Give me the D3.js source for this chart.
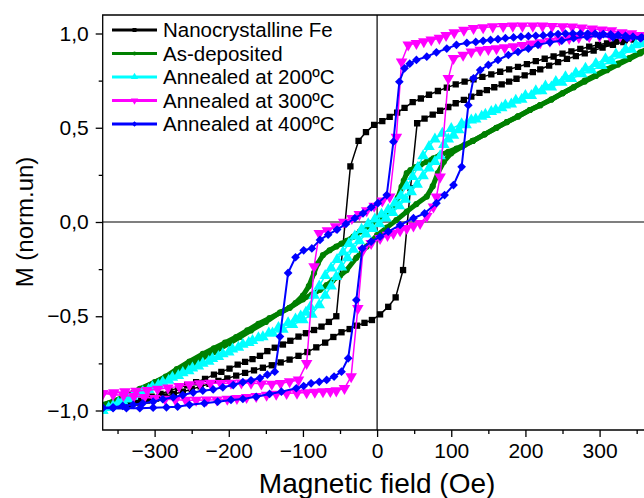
<!DOCTYPE html>
<html><head><meta charset="utf-8">
<script src="https://cdn.jsdelivr.net/npm/d3@7"></script>
<style>body{margin:0;background:#fff}svg{display:block}text{font-family:"Liberation Sans",Arial,sans-serif;fill:#000}</style>
</head><body><svg id="c" width="644" height="498"></svg>
<script>
// ---- data (H in Oe, M normalised) ----
const xTicks = [-300,-200,-100,0,100,200,300];
const xMinor = [-350,-250,-150,-50,50,150,250,350];
const yTicks = [-1,-0.5,0,0.5,1];
const yMinor = [-0.75,-0.25,0.25,0.75];
const seriesNames = ["Nanocrystalline Fe","As-deposited","Annealed at 200ºC","Annealed at 300ºC","Annealed at 400ºC"];

const black_desc = [[370,0.99],[358,0.982],[346,0.973],[334,0.965],[322,0.957],[310,0.948],[298,0.94],[286,0.93],[274,0.918],[262,0.905],[250,0.893],[238,0.878],[226,0.866],[214,0.853],[202,0.838],[190,0.823],[178,0.81],[166,0.797],[154,0.783],[142,0.77],[130,0.757],[118,0.745],[106,0.73],[94,0.713],[82,0.695],[70,0.675],[59,0.655],[48,0.636],[37,0.605],[27,0.58],[17,0.558],[7,0.535],[-4,0.515],[-15,0.477],[-25,0.43],[-36,0.295],[-55,-0.50],[-65,-0.53],[-75,-0.555],[-85,-0.573],[-96,-0.59],[-106,-0.608],[-117,-0.63],[-127,-0.65],[-138,-0.667],[-148,-0.685],[-158,-0.71],[-168,-0.727],[-178,-0.742],[-188,-0.757],[-199,-0.778],[-210,-0.795],[-220,-0.81],[-232,-0.832],[-244,-0.85],[-256,-0.866],[-268,-0.88],[-280,-0.895],[-292,-0.912],[-304,-0.927],[-318,-0.943],[-332,-0.958],[-346,-0.972],[-358,-0.985],[-370,-0.99]];
const black_asc = [[-370,-0.99],[-358,-0.985],[-346,-0.977],[-334,-0.968],[-322,-0.958],[-310,-0.948],[-298,-0.937],[-286,-0.925],[-274,-0.912],[-262,-0.9],[-250,-0.887],[-238,-0.872],[-226,-0.858],[-214,-0.843],[-202,-0.83],[-190,-0.815],[-178,-0.8],[-166,-0.787],[-154,-0.773],[-142,-0.76],[-130,-0.745],[-118,-0.73],[-106,-0.71],[-94,-0.69],[-82,-0.665],[-70,-0.64],[-59,-0.61],[-48,-0.585],[-37,-0.568],[-27,-0.55],[-17,-0.535],[-7,-0.52],[4,-0.49],[15,-0.45],[25,-0.40],[35,-0.255],[45,0.18],[54,0.524],[64,0.548],[75,0.57],[85,0.59],[96,0.61],[106,0.63],[117,0.648],[127,0.665],[138,0.685],[148,0.70],[158,0.715],[168,0.73],[178,0.745],[188,0.76],[199,0.778],[210,0.795],[220,0.81],[232,0.83],[244,0.848],[256,0.865],[268,0.88],[280,0.895],[292,0.91],[304,0.925],[318,0.94],[332,0.955],[346,0.968],[358,0.98],[370,0.99]];

const green_desc = [[370,0.93],[355,0.9],[340,0.87],[325,0.84],[310,0.81],[295,0.78],[280,0.75],[265,0.715],[250,0.683],[235,0.65],[220,0.62],[206,0.594],[190,0.56],[175,0.53],[161,0.50],[145,0.465],[129,0.43],[118,0.41],[107,0.39],[96,0.372],[85,0.355],[76,0.338],[67,0.32],[59,0.305],[51,0.29],[45,0.275],[40,0.26],[36,0.22],[33,0.187],[28,0.13],[22,0.08],[15,0.05],[7,0.03],[0,0.015],[-7,-0.005],[-14,-0.025],[-23,-0.05],[-32,-0.078],[-41,-0.10],[-48,-0.115],[-55,-0.13],[-64,-0.15],[-73,-0.175],[-80,-0.22],[-85,-0.27],[-92,-0.34],[-100,-0.39],[-110,-0.43],[-118,-0.455],[-130,-0.48],[-145,-0.51],[-160,-0.54],[-175,-0.575],[-190,-0.61],[-205,-0.64],[-220,-0.67],[-235,-0.70],[-253,-0.74],[-270,-0.78],[-285,-0.82],[-300,-0.85],[-320,-0.89],[-340,-0.93],[-355,-0.95],[-370,-0.97]];
const green_asc = [[-370,-0.97],[-355,-0.95],[-340,-0.925],[-320,-0.885],[-300,-0.85],[-285,-0.825],[-266,-0.79],[-250,-0.755],[-235,-0.72],[-220,-0.69],[-200,-0.645],[-185,-0.61],[-170,-0.575],[-150,-0.53],[-131,-0.48],[-118,-0.455],[-100,-0.41],[-88,-0.385],[-77,-0.36],[-68,-0.335],[-60,-0.31],[-50,-0.285],[-41,-0.255],[-28,-0.19],[-14,-0.13],[0,-0.07],[13,-0.03],[26,0.01],[40,0.055],[53,0.095],[67,0.135],[75,0.19],[82,0.26],[90,0.32],[100,0.365],[115,0.40],[129,0.43],[145,0.465],[161,0.50],[175,0.53],[190,0.56],[206,0.594],[220,0.62],[235,0.65],[250,0.683],[265,0.715],[280,0.745],[295,0.775],[310,0.805],[325,0.835],[340,0.865],[355,0.895],[370,0.925]];

const cyan_desc = [[370,0.975],[356,0.945],[343,0.915],[330,0.885],[316,0.855],[303,0.83],[289,0.805],[276,0.785],[262,0.76],[249,0.74],[235,0.715],[222,0.695],[208,0.67],[195,0.65],[181,0.625],[168,0.605],[154,0.585],[141,0.56],[127,0.54],[114,0.52],[100,0.495],[88,0.47],[78,0.44],[70,0.40],[62,0.35],[55,0.29],[48,0.24],[40,0.19],[32,0.14],[24,0.10],[15,0.065],[6,0.04],[-3,0.015],[-12,-0.01],[-21,-0.04],[-30,-0.075],[-38,-0.115],[-46,-0.16],[-54,-0.2],[-62,-0.245],[-70,-0.285],[-78,-0.34],[-85,-0.39],[-90,-0.45],[-96,-0.48],[-103,-0.5],[-110,-0.515],[-120,-0.535],[-133,-0.56],[-146,-0.59],[-160,-0.615],[-173,-0.64],[-187,-0.665],[-200,-0.69],[-214,-0.715],[-227,-0.74],[-241,-0.765],[-254,-0.79],[-268,-0.815],[-281,-0.84],[-295,-0.865],[-308,-0.89],[-322,-0.915],[-335,-0.94],[-349,-0.96],[-362,-0.985],[-370,-1.0]];
const cyan_asc = [[-370,-1.0],[-356,-0.975],[-343,-0.95],[-330,-0.925],[-316,-0.9],[-303,-0.875],[-289,-0.85],[-276,-0.825],[-262,-0.8],[-249,-0.775],[-235,-0.75],[-222,-0.725],[-208,-0.7],[-195,-0.675],[-181,-0.65],[-168,-0.63],[-154,-0.61],[-141,-0.59],[-127,-0.57],[-114,-0.545],[-100,-0.52],[-88,-0.49],[-78,-0.44],[-70,-0.39],[-62,-0.34],[-55,-0.29],[-48,-0.24],[-40,-0.19],[-32,-0.145],[-24,-0.10],[-15,-0.065],[-6,-0.035],[3,-0.01],[12,0.02],[21,0.05],[30,0.085],[38,0.12],[46,0.16],[54,0.2],[62,0.245],[70,0.285],[78,0.32],[85,0.35],[90,0.41],[96,0.44],[103,0.46],[110,0.488],[120,0.515],[133,0.545],[146,0.57],[160,0.595],[173,0.62],[187,0.645],[200,0.67],[214,0.695],[227,0.72],[241,0.745],[254,0.77],[268,0.79],[281,0.815],[295,0.84],[308,0.865],[322,0.89],[335,0.915],[349,0.94],[362,0.96],[370,0.975]];

const magenta_desc = [[370,0.985],[356,0.99],[343,1.0],[330,1.005],[316,1.015],[303,1.02],[290,1.025],[276,1.03],[263,1.035],[250,1.037],[236,1.038],[223,1.04],[210,1.04],[196,1.04],[183,1.04],[170,1.038],[156,1.036],[143,1.032],[130,1.027],[117,1.018],[104,1.005],[93,0.99],[84,0.975],[73,0.966],[63,0.957],[53,0.948],[42,0.94],[33,0.85],[26,0.45],[17,0.134],[7,0.112],[-4,0.085],[-14,0.06],[-24,0.04],[-34,0.02],[-45,0.0],[-56,-0.025],[-67,-0.045],[-78,-0.06],[-85,-0.237],[-95,-0.75],[-106,-0.838],[-118,-0.847],[-130,-0.856],[-142,-0.86],[-156,-0.858],[-170,-0.855],[-183,-0.853],[-197,-0.855],[-211,-0.856],[-225,-0.855],[-239,-0.857],[-253,-0.862],[-267,-0.872],[-282,-0.88],[-296,-0.887],[-310,-0.893],[-325,-0.897],[-340,-0.9],[-355,-0.905],[-370,-0.91]];
const magenta_asc = [[-370,-0.91],[-356,-0.915],[-342,-0.92],[-328,-0.925],[-314,-0.93],[-300,-0.935],[-286,-0.94],[-272,-0.943],[-258,-0.945],[-244,-0.945],[-230,-0.944],[-216,-0.943],[-202,-0.94],[-189,-0.935],[-176,-0.93],[-163,-0.925],[-149,-0.918],[-136,-0.913],[-122,-0.909],[-108,-0.907],[-95,-0.905],[-84,-0.902],[-73,-0.9],[-63,-0.898],[-55,-0.895],[-44,-0.882],[-35,-0.82],[-26,-0.458],[-19,-0.149],[-8,-0.113],[4,-0.087],[14,-0.07],[22,-0.06],[31,-0.045],[40,-0.034],[49,-0.02],[58,-0.007],[67,0.03],[76,0.081],[80,0.134],[85,0.24],[96,0.762],[103,0.868],[116,0.886],[127,0.903],[139,0.912],[150,0.916],[161,0.92],[172,0.925],[184,0.93],[196,0.937],[208,0.945],[220,0.952],[233,0.96],[246,0.968],[259,0.975],[272,0.98],[286,0.984],[300,0.987],[314,0.988],[328,0.988],[342,0.987],[356,0.986],[370,0.985]];

const blue_desc = [[370,0.975],[357,0.98],[345,0.983],[335,0.988],[325,0.992],[315,0.995],[305,0.997],[294,0.999],[284,1.0],[274,1.0],[264,1.0],[254,0.999],[244,0.997],[234,0.994],[224,0.99],[214,0.988],[204,0.986],[194,0.983],[184,0.979],[173,0.975],[163,0.97],[153,0.966],[143,0.961],[133,0.955],[121,0.95],[107,0.94],[94,0.92],[80,0.9],[67,0.877],[53,0.86],[44,0.84],[37,0.815],[30,0.744],[22,0.426],[13,0.143],[1,0.1],[-8,0.078],[-19,0.046],[-30,0.02],[-42,-0.01],[-54,-0.04],[-66,-0.067],[-77,-0.095],[-88,-0.14],[-99,-0.15],[-110,-0.187],[-120,-0.27],[-131,-0.608],[-138,-0.794],[-148,-0.81],[-158,-0.828],[-170,-0.84],[-181,-0.85],[-194,-0.865],[-208,-0.877],[-221,-0.888],[-235,-0.895],[-248,-0.905],[-262,-0.918],[-275,-0.93],[-289,-0.94],[-302,-0.953],[-316,-0.962],[-329,-0.97],[-343,-0.976],[-356,-0.983],[-370,-0.985]];
const blue_asc = [[-370,-0.988],[-356,-0.988],[-338,-0.988],[-320,-0.988],[-302,-0.985],[-284,-0.983],[-269,-0.98],[-253,-0.97],[-233,-0.962],[-215,-0.953],[-197,-0.944],[-181,-0.939],[-163,-0.927],[-145,-0.912],[-129,-0.9],[-109,-0.882],[-99,-0.87],[-89,-0.856],[-78,-0.848],[-68,-0.838],[-58,-0.82],[-48,-0.794],[-39,-0.723],[-28,-0.414],[-20,-0.14],[-8,-0.104],[4,-0.078],[15,-0.051],[31,-0.016],[49,0.02],[64,0.046],[80,0.1],[91,0.143],[103,0.196],[114,0.293],[123,0.62],[130,0.762],[139,0.806],[150,0.833],[163,0.86],[177,0.886],[190,0.903],[204,0.92],[217,0.94],[233,0.953],[249,0.962],[265,0.975],[283,0.983],[300,0.987],[318,0.98],[337,0.975],[355,0.975],[370,0.975]];

// ---- chart ----
const svg = d3.select("#c");
const L = 102.7, R = 651.5, T = 15, B = 430;
const x = d3.scaleLinear().domain([-370, 370]).range([L, R]);
const y = d3.scaleLinear().domain([-1, 1]).range([410.5, 33.5]);

svg.append("defs").append("clipPath").attr("id","clip")
  .append("rect").attr("x",L).attr("y",T).attr("width",R-L).attr("height",B-T);

const fmtX = d => d < 0 ? "\u2212" + Math.abs(d) : String(d);
const fmtY = d => { const s = Math.abs(d).toFixed(1).replace(".", ","); return d < 0 ? "\u2212" + s : s; };

const plot = svg.append("g").attr("clip-path","url(#clip)");
plot.append("line").attr("x1",x(0)).attr("x2",x(0)).attr("y1",T).attr("y2",B).attr("stroke","#000").attr("stroke-width",1.2);
plot.append("line").attr("x1",L).attr("x2",R).attr("y1",y(0)).attr("y2",y(0)).attr("stroke","#000").attr("stroke-width",1.2);

const series = [
  {name: seriesNames[0], color:"#000000", branches:[black_desc, black_asc], sym:"square", lw:1.5},
  {name: seriesNames[1], color:"#008000", branches:[green_desc, green_asc], sym:"circle", lw:5},
  {name: seriesNames[2], color:"#00ffff", branches:[cyan_desc, cyan_asc], sym:"tri", lw:1.5},
  {name: seriesNames[3], color:"#ff00ff", branches:[magenta_desc, magenta_asc], sym:"tridown", lw:1.5},
  {name: seriesNames[4], color:"#0000ff", branches:[blue_desc, blue_asc], sym:"diamond", lw:2}
];
function symPath(s, scale) {
  const k = scale || 1;
  if (s === "square") return {d: d3.symbol(d3.symbolSquare, 40*k)(), rot:0};
  if (s === "circle") return {d: d3.symbol(d3.symbolCircle, 30*k)(), rot:0};
  if (s === "tri") return {d: d3.symbol(d3.symbolTriangle, 58*k)(), rot:0};
  if (s === "tridown") return {d: d3.symbol(d3.symbolTriangle, 58*k)(), rot:180};
  return {d: d3.symbol(d3.symbolSquare, 38*k)(), rot:45};
}
const line = d3.line().x(d => x(d[0])).y(d => y(d[1]));
series.forEach(s => {
  const g = plot.append("g");
  s.branches.forEach(br => {
    g.append("path").attr("d", line(br)).attr("fill","none").attr("stroke", s.color).attr("stroke-width", s.lw).attr("stroke-linejoin","round");
  });
  const sp = symPath(s.sym);
  s.branches.forEach(br => {
    g.selectAll(null).data(br).enter().append("path").attr("d", sp.d)
      .attr("transform", d => `translate(${x(d[0])},${y(d[1])}) rotate(${sp.rot})`)
      .attr("fill", s.color);
  });
});

svg.append("path").attr("d",`M${R},${T}H${L}V${B}H${R}`).attr("fill","none").attr("stroke","#000").attr("stroke-width",1.3);

svg.append("g").attr("transform",`translate(0,${B})`)
  .call(d3.axisBottom(x).tickValues(xTicks).tickSize(7).tickPadding(6).tickFormat(fmtX));
svg.append("g").attr("transform",`translate(0,${B})`)
  .call(d3.axisBottom(x).tickValues(xMinor).tickSize(4).tickFormat(""));
svg.append("g").attr("transform",`translate(${L},0)`)
  .call(d3.axisLeft(y).tickValues(yTicks).tickSize(7).tickPadding(7).tickFormat(fmtY));
svg.append("g").attr("transform",`translate(${L},0)`)
  .call(d3.axisLeft(y).tickValues(yMinor).tickSize(4).tickFormat(""));
svg.selectAll(".domain").remove();
svg.selectAll(".tick line").attr("stroke","#000").attr("stroke-width",1.3);
svg.selectAll(".tick text").attr("font-size",21).attr("font-family",'"Liberation Sans",Arial,sans-serif').attr("fill","#000");

svg.append("text").attr("x", x(0)).attr("y", 493).attr("text-anchor","middle").attr("font-size",28).text("Magnetic field (Oe)");
svg.append("text").attr("transform",`translate(33,222) rotate(-90)`).attr("text-anchor","middle").attr("font-size",24).text("M (norm.un)");

const lg = svg.append("g");
series.forEach((s, i) => {
  const yy = 30 + i * 23.5;
  lg.append("line").attr("x1",112).attr("x2",157).attr("y1",yy).attr("y2",yy).attr("stroke",s.color).attr("stroke-width",3.2);
  const sp = symPath(s.sym, 0.4);
  lg.append("path").attr("d", sp.d).attr("transform",`translate(134.5,${yy}) rotate(${sp.rot})`).attr("fill", s.color);
  lg.append("text").attr("x",163).attr("y",yy).attr("dy","0.36em").attr("font-size",20.5).text(s.name);
});
</script></body></html>
